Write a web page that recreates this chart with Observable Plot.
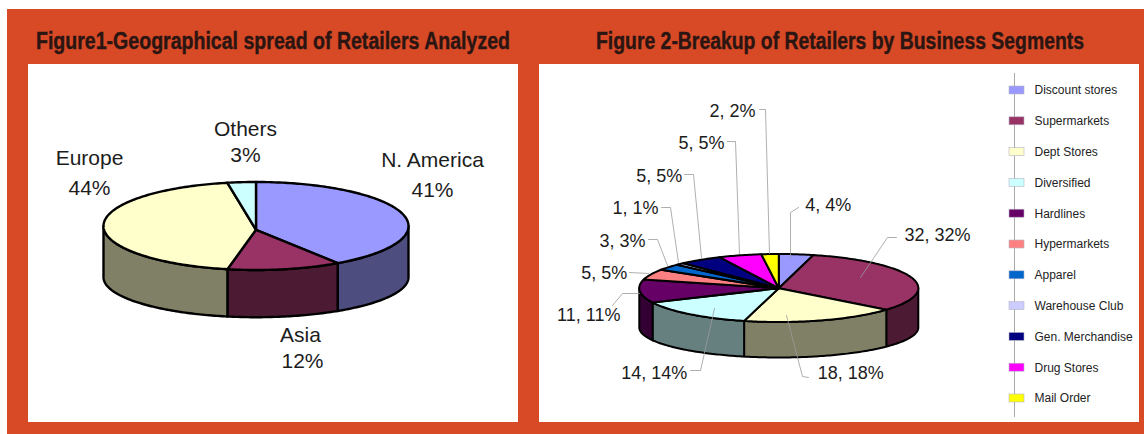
<!DOCTYPE html>
<html>
<head>
<meta charset="utf-8">
<script src="https://cdn.jsdelivr.net/npm/d3@7"></script>
<script src="https://cdn.jsdelivr.net/npm/@observablehq/plot@0.6"></script>
<style>
  html,body{margin:0;padding:0;background:#fff;width:1144px;height:434px;overflow:hidden}
  #frame{position:absolute;left:7px;top:9px;width:1137px;height:425px;background:#D84A26}
  .panel{position:absolute;background:#fff;top:64px;height:358px}
  .panel svg{display:block}
  .title{position:absolute;top:29px;white-space:nowrap;font:bold 23px "Liberation Sans",Arial,sans-serif;color:#2b1512;-webkit-text-stroke:.4px #2b1512;transform-origin:0 50%;line-height:24px}
</style>
</head>
<body>
<div id="frame"></div>
<div class="title" id="t1" data-x="36" data-w="474">Figure1-Geographical spread of Retailers Analyzed</div>
<div class="title" id="t2" data-x="596" data-w="488">Figure 2-Breakup of Retailers by Business Segments</div>
<div class="panel" id="p1" style="left:28px;width:490px"></div>
<div class="panel" id="p2" style="left:539px;width:600px"></div>
<script>
// ---- data ----
const regions = ["N. America", "Asia", "Europe", "Others"];
const regionShares = [41, 12, 44, 3];
const regionColors = ["#9999FF", "#993366", "#FFFFCC", "#CCFFFF"];

const segments = ["Discount stores","Supermarkets","Dept Stores","Diversified","Hardlines","Hypermarkets","Apparel","Warehouse Club","Gen. Merchandise","Drug Stores","Mail Order"];
const segmentCounts = [4, 32, 18, 14, 11, 5, 3, 1, 5, 5, 2];
const segmentColors = ["#9999FF","#993366","#FFFFCC","#CCFFFF","#660066","#FF8080","#0066CC","#CCCCFF","#000080","#FF00FF","#FFFF00"];

// ---- layout (page pixels) ----
const pie1 = {cx:255.5, cy:225.5, rx:152.5, ry:44, apexY:229.3, cyB:276.7, ryB:40, sw:2.4};
const pie2 = {cx:778.3, cy:287.5, rx:139.5, ry:34, apexY:287.7, cyB:327, ryB:30, sw:2};
const regionLabelSpots = [
  [[432,160],[432,190]],
  [[300,335],[302,361]],
  [[89,158],[89,188]],
  [[245,129],[245,155]]
];
// [x, y, anchor] for each segment's label, with its leader path
const segmentLabelSpots = [
  [804.7,205,"start"],[904,235,"start"],[817.3,372.7,"start"],[686.7,372.7,"end"],[620,315,"end"],
  [626.7,273,"end"],[645,241,"end"],[658,208,"end"],[681.7,176,"end"],[724,142.7,"end"],[755,110.7,"end"]
];
const segmentLeaders = [
  [[798,207],[790,212],[790,257]],
  [[896,237],[887,237],[860,277]],
  [[808,377],[802,376],[786,315]],
  [[690,370],[700,370],[714,308]],
  [[612,305],[622,293],[639,293]],
  [[629,272],[648,273]],
  [[648,239],[657,239],[667,265]],
  [[661,207],[670,207],[678,262]],
  [[684,174],[693,174],[701,257]],
  [[727,141],[735,141],[739,253]],
  [[759,109],[765,109],[769,253]]
];
const legendTop = 90, legendStep = 30.8;

// ---- geometry from the values ----
const TAU = 2*Math.PI;
function shade(c){ const k = d3.rgb(c); return d3.rgb(k.r*.5,k.g*.5,k.b*.5).formatHex(); }
function arcAngles(a,b){
  const n = Math.max(2, Math.ceil((b-a)/(TAU/360)));
  return d3.range(n+1).map(i => a+(b-a)*i/n);
}
function pieRows(values, colors, p){
  const total = d3.sum(values);
  const tops = [], sides = [];
  let acc = 0;
  values.forEach((v,i) => {
    const a = acc/total*TAU, b = (acc+v)/total*TAU; acc += v;
    const T = t => ({x:p.cx+p.rx*Math.sin(t), y:p.cy-p.ry*Math.cos(t)});
    const B = t => ({x:p.cx+p.rx*Math.sin(t), y:p.cyB-p.ryB*Math.cos(t)});
    const top = [{x:p.cx,y:p.apexY}, ...arcAngles(a,b).map(T), {x:p.cx,y:p.apexY}];
    top.forEach(d => tops.push({...d, id:"t"+i, color:colors[i]}));
    const s = Math.max(a,TAU/4), e = Math.min(b,3*TAU/4);
    if (e > s) {
      const up = arcAngles(s,e);
      const ring = [...up.map(T), ...up.slice().reverse().map(B)];
      ring.push(ring[0]);
      ring.forEach(d => sides.push({...d, id:"s"+i, color:shade(colors[i])}));
    }
  });
  return [...sides, ...tops];
}
const FONT = '"Liberation Sans", Arial, sans-serif';
function polys(rows, sw){
  return Plot.line(rows, {x:"x", y:"y", z:"id", fill:"color", stroke:"#000", strokeWidth:sw, strokeLinejoin:"round"});
}
function frame(x0, w, marks){
  return Plot.plot({
    width:w, height:358, margin:0,
    x:{domain:[x0,x0+w], range:[0,w], axis:null},
    y:{domain:[64,422], range:[0,358], axis:null},
    color:{type:"identity"},
    style:{background:"transparent", fontFamily:FONT},
    marks
  });
}

// ---- figure 1 ----
const regionText = regions.flatMap((r,i) => [
  {x:regionLabelSpots[i][0][0], y:regionLabelSpots[i][0][1], t:r},
  {x:regionLabelSpots[i][1][0], y:regionLabelSpots[i][1][1], t:regionShares[i]+"%"}
]);
document.getElementById("p1").append(frame(28, 490, [
  polys(pieRows(regionShares, regionColors, pie1), pie1.sw),
  Plot.text(regionText, {x:"x", y:"y", text:"t", fontSize:21, fill:"#1c1c1c"})
]));

// ---- figure 2 ----
const segTotal = d3.sum(segmentCounts);
const segText = segmentCounts.map((v,i) => ({
  x:segmentLabelSpots[i][0], y:segmentLabelSpots[i][1], a:segmentLabelSpots[i][2],
  t:`${v}, ${Math.round(v/segTotal*100)}%`
}));
const leaderRows = segmentLeaders.flatMap((path,i) => path.map(([x,y]) => ({x,y,id:i})));
const legendRows = segments.map((s,i) => ({s, color:segmentColors[i], y:legendTop+i*legendStep}));
document.getElementById("p2").append(frame(539, 600, [
  polys(pieRows(segmentCounts, segmentColors, pie2), pie2.sw),
  Plot.line(leaderRows, {x:"x", y:"y", z:"id", stroke:"#9a9a9a", strokeWidth:.8}),
  Plot.text(segText.filter(d=>d.a==="start"), {x:"x", y:"y", text:"t", textAnchor:"start", fontSize:18, fill:"#1c1c1c"}),
  Plot.text(segText.filter(d=>d.a==="end"), {x:"x", y:"y", text:"t", textAnchor:"end", fontSize:18, fill:"#1c1c1c"}),
  Plot.ruleX([1014], {y1:73, y2:417, stroke:"#aaa", strokeWidth:1}),
  Plot.rect(legendRows, {x1:()=>1009, x2:()=>1024, y1:d=>d.y-4, y2:d=>d.y+4, fill:"color", stroke:"#b5b5c5", strokeWidth:.6}),
  Plot.text(legendRows, {x:()=>1034, y:"y", text:"s", textAnchor:"start", fontSize:12, fill:"#222"})
]));

// ---- titles fitted to their condensed width ----
document.querySelectorAll(".title").forEach(el => {
  const w = el.getBoundingClientRect().width;
  el.style.left = el.dataset.x+"px";
  el.style.transform = `scaleX(${el.dataset.w/w})`;
});
</script>
</body>
</html>
